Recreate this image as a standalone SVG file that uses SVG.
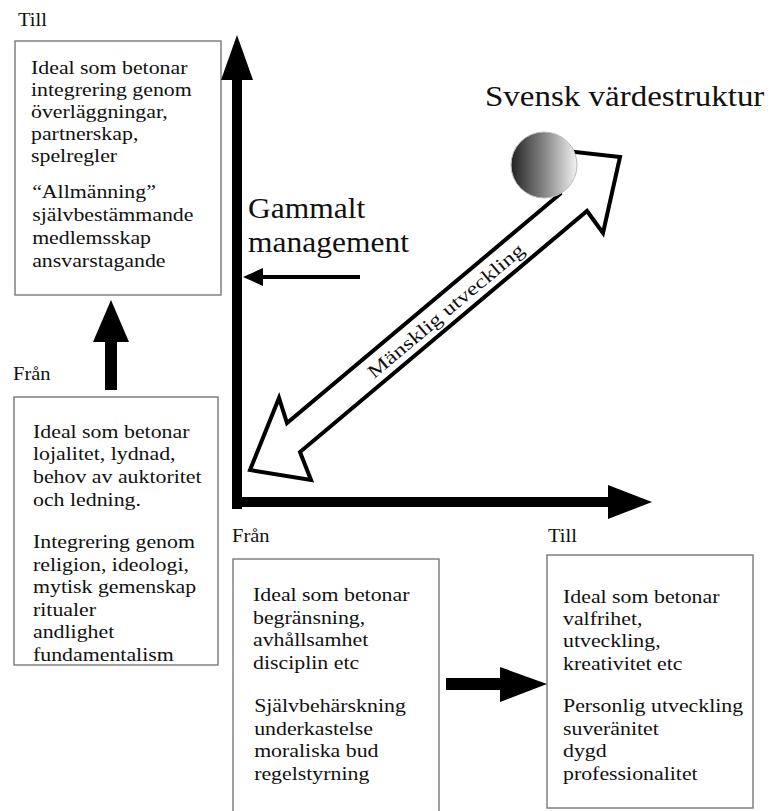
<svg xmlns="http://www.w3.org/2000/svg" width="771" height="811" viewBox="0 0 771 811">
<defs>
<style>
text{font-family:'Liberation Serif','DejaVu Serif','Noto Serif',serif;fill:#111}
.t{font-size:19px}
.big{font-size:30px}
.box{fill:#fff;stroke:#808080;stroke-width:1.5}
.blk{fill:#000}
</style>
<linearGradient id="ball" x1="0" y1="0" x2="1" y2="0">
<stop offset="0" stop-color="#222"/>
<stop offset="0.5" stop-color="#858585"/>
<stop offset="1" stop-color="#f2f2f2"/>
</linearGradient>
</defs>
<rect width="771" height="811" fill="#fff"/>

<g id="label-till-top"><text class="t" transform="translate(18,0) scale(1.08,1)" x="0" y="26">Till</text></g>

<g id="box-top-left">
<rect class="box" x="15" y="41" width="206" height="254"/>
<text class="t" transform="translate(31,0) scale(1.15,1)">
<tspan x="0" y="74">Ideal som betonar</tspan>
<tspan x="0" y="96">integrering genom</tspan>
<tspan x="0" y="118">överläggningar,</tspan>
<tspan x="0" y="140">partnerskap,</tspan>
<tspan x="0" y="162">spelregler</tspan>
<tspan x="1" y="198">“Allmänning”</tspan>
<tspan x="1" y="221">självbestämmande</tspan>
<tspan x="1" y="244">medlemsskap</tspan>
<tspan x="1" y="267">ansvarstagande</tspan>
</text>
</g>

<g id="label-fran-left"><text class="t" transform="translate(13,0) scale(1.08,1)" x="0" y="380">Från</text></g>

<g id="box-mid-left">
<rect class="box" x="14" y="397" width="204" height="268"/>
<text class="t" transform="translate(33,0) scale(1.15,1)">
<tspan x="0" y="438">Ideal som betonar</tspan>
<tspan x="0" y="460">lojalitet, lydnad,</tspan>
<tspan x="0" y="483">behov av auktoritet</tspan>
<tspan x="0" y="506">och ledning.</tspan>
<tspan x="0" y="548">Integrering genom</tspan>
<tspan x="0" y="571">religion, ideologi,</tspan>
<tspan x="0" y="593">mytisk gemenskap</tspan>
<tspan x="0" y="616">ritualer</tspan>
<tspan x="0" y="638">andlighet</tspan>
<tspan x="0" y="661">fundamentalism</tspan>
</text>
</g>

<g id="label-fran-bottom"><text class="t" transform="translate(232,0) scale(1.08,1)" x="0" y="542">Från</text></g>

<g id="box-bottom-left">
<rect class="box" x="233" y="559" width="206" height="260"/>
<text class="t" transform="translate(253,0) scale(1.15,1)">
<tspan x="0" y="601">Ideal som betonar</tspan>
<tspan x="0" y="624">begränsning,</tspan>
<tspan x="0" y="646">avhållsamhet</tspan>
<tspan x="0" y="669">disciplin etc</tspan>
<tspan x="1" y="712">Självbehärskning</tspan>
<tspan x="1" y="735">underkastelse</tspan>
<tspan x="1" y="757">moraliska bud</tspan>
<tspan x="1" y="780">regelstyrning</tspan>
</text>
</g>

<g id="label-till-bottom"><text class="t" transform="translate(548,0) scale(1.08,1)" x="0" y="542">Till</text></g>

<g id="box-bottom-right">
<rect class="box" x="547" y="555" width="206" height="253"/>
<text class="t" transform="translate(563,0) scale(1.15,1)">
<tspan x="0" y="603">Ideal som betonar</tspan>
<tspan x="0" y="625">valfrihet,</tspan>
<tspan x="0" y="647">utveckling,</tspan>
<tspan x="0" y="670">kreativitet etc</tspan>
<tspan x="0" y="712">Personlig utveckling</tspan>
<tspan x="0" y="735">suveränitet</tspan>
<tspan x="0" y="757">dygd</tspan>
<tspan x="0" y="780">professionalitet</tspan>
</text>
</g>

<g id="title"><text class="big" transform="translate(485,0) scale(1.1,1)" x="0" y="106">Svensk värdestruktur</text></g>

<g id="gammalt-management">
<text class="big" transform="translate(248,0) scale(1.05,1)"><tspan x="0" y="218">Gammalt</tspan><tspan x="0" y="252">management</tspan></text>
</g>

<g id="connectors">
<rect class="blk" x="232" y="78" width="10" height="431"/>
<polygon class="blk" points="237,35 221,80 253,80"/>
<rect class="blk" x="232" y="497" width="378" height="10"/>
<polygon class="blk" points="652,502 608,485 608,519"/>
<line x1="360" y1="277" x2="258" y2="277" stroke="#000" stroke-width="4"/>
<polygon class="blk" points="243,277 263,268 263,286"/>
<rect class="blk" x="105" y="340" width="12" height="50"/>
<polygon class="blk" points="111,300 93,342 129,342"/>
<rect class="blk" x="446" y="678" width="56" height="12"/>
<polygon class="blk" points="547,684 500,667 500,702"/>
<polygon points="250,470 279,398 287,423 560,194 540,148 620,157 603,233 587,211 300,452 311,480" fill="#fff" stroke="#000" stroke-width="4" stroke-linejoin="miter"/>
<text class="t" transform="translate(446,311) rotate(-40)" x="0" y="6" text-anchor="middle" textLength="198" lengthAdjust="spacingAndGlyphs">Mänsklig utveckling</text>
</g>

<g id="ball-node">
<circle cx="544" cy="165" r="33" fill="url(#ball)" stroke="#bbb" stroke-width="1"/>
</g>
</svg>
